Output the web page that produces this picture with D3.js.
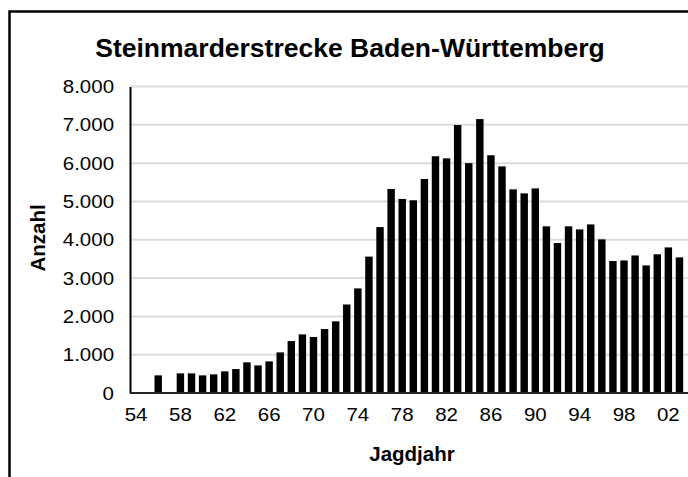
<!DOCTYPE html>
<html lang="de">
<head>
  <meta charset="UTF-8">
  <title>Steinmarderstrecke Baden-Württemberg</title>
  <script src="https://d3js.org/d3.v7.min.js"></script>
  <style>
    body { margin: 0; background: #fff; }
    svg { display: block; font-family: "Liberation Sans", Arial, sans-serif; }
  </style>
</head>
<body>
  <svg width="688" height="477"></svg>

  <script>
    // Jagdjahre 1954 - 2003 (two-digit labels as in the original)
    const years = ["54","55","56","57","58","59","60","61","62","63","64","65","66","67","68","69",
                   "70","71","72","73","74","75","76","77","78","79","80","81","82","83","84","85",
                   "86","87","88","89","90","91","92","93","94","95","96","97","98","99","00","01",
                   "02","03"];
    // Steinmarderstrecke (Anzahl), null = no bar
    const counts = [null, null, 460, null, 512, 512, 460, 486, 565, 625, 800, 720, 825, 1060, 1355, 1530,
                    1460, 1670, 1870, 2310, 2730, 3560, 4330, 5325, 5065, 5030, 5585, 6180, 6125, 6995, 6000, 7150,
                    6205, 5915, 5315, 5210, 5340, 4350, 3915, 4350, 4270, 4400, 4010, 3445, 3460, 3590, 3330, 3620,
                    3800, 3540];
    const xTickLabels = ["54","58","62","66","70","74","78","82","86","90","94","98","02"];
    const yTicks = [0, 1000, 2000, 3000, 4000, 5000, 6000, 7000, 8000];

    const data = years.map((y, i) => ({ year: y, value: counts[i] }));

    const svg = d3.select("svg");

    // outer frame (runs off the right and bottom edge like the source picture)
    svg.append("rect")
      .attr("x", 9.5).attr("y", 11.5)
      .attr("width", 720).attr("height", 500)
      .attr("fill", "none")
      .attr("stroke", "#000")
      .attr("stroke-width", 2.5);

    const x = d3.scaleBand()
      .domain(years)
      .range([130.5, 685])
      .paddingInner(0.33)
      .paddingOuter(0.165);

    const y = d3.scaleLinear().domain([0, 8000]).range([393, 86.5]);

    const fmt = d => d === 0 ? "0" : d3.format(",")(d).replace(/,/g, ".");
    const stretch = 1.17; // tick labels in the source are a bit wider than plain Arial

    // gridlines
    svg.append("g")
      .selectAll("line")
      .data(yTicks.filter(d => d > 0))
      .join("line")
      .attr("x1", 131).attr("x2", 688)
      .attr("y1", d => y(d)).attr("y2", d => y(d))
      .attr("stroke", "#dcdcdc")
      .attr("stroke-width", 2);

    // bars
    svg.append("g")
      .selectAll("rect")
      .data(data.filter(d => d.value != null))
      .join("rect")
      .attr("x", d => x(d.year))
      .attr("width", x.bandwidth())
      .attr("y", d => y(d.value))
      .attr("height", d => y(0) - y(d.value))
      .attr("fill", "#000");

    // y axis
    const yAxis = svg.append("g")
      .attr("transform", "translate(130,0)")
      .call(d3.axisLeft(y).tickValues(yTicks).tickFormat(fmt).tickSize(0).tickPadding(16 / stretch));
    yAxis.select(".domain").attr("stroke", "#000").attr("stroke-width", 2);
    yAxis.selectAll("text")
      .attr("font-size", 17.5)
      .attr("fill", "#000")
      .attr("dy", "0.35em")
      .attr("transform", `scale(${stretch},1)`);

    // x axis
    const xAxis = svg.append("g")
      .attr("transform", "translate(0,393)")
      .call(d3.axisBottom(x).tickValues(xTickLabels).tickSize(0).tickPadding(16));
    xAxis.select(".domain")
      .attr("d", "M130,0H688")
      .attr("stroke", "#222").attr("stroke-width", 2);
    xAxis.selectAll("text")
      .attr("font-size", 17.5)
      .attr("fill", "#000")
      .attr("transform", `scale(${stretch},1)`);

    // title
    svg.append("text")
      .attr("x", 350).attr("y", 57)
      .attr("text-anchor", "middle")
      .attr("font-size", 26.5)
      .attr("font-weight", "bold")
      .text("Steinmarderstrecke Baden-Württemberg");

    // axis titles
    svg.append("text")
      .attr("transform", "translate(45,238) rotate(-90)")
      .attr("text-anchor", "middle")
      .attr("font-size", 20.5)
      .attr("font-weight", "bold")
      .text("Anzahl");

    svg.append("text")
      .attr("x", 412).attr("y", 461)
      .attr("text-anchor", "middle")
      .attr("font-size", 20.5)
      .attr("font-weight", "bold")
      .text("Jagdjahr");
  </script>
</body>
</html>
